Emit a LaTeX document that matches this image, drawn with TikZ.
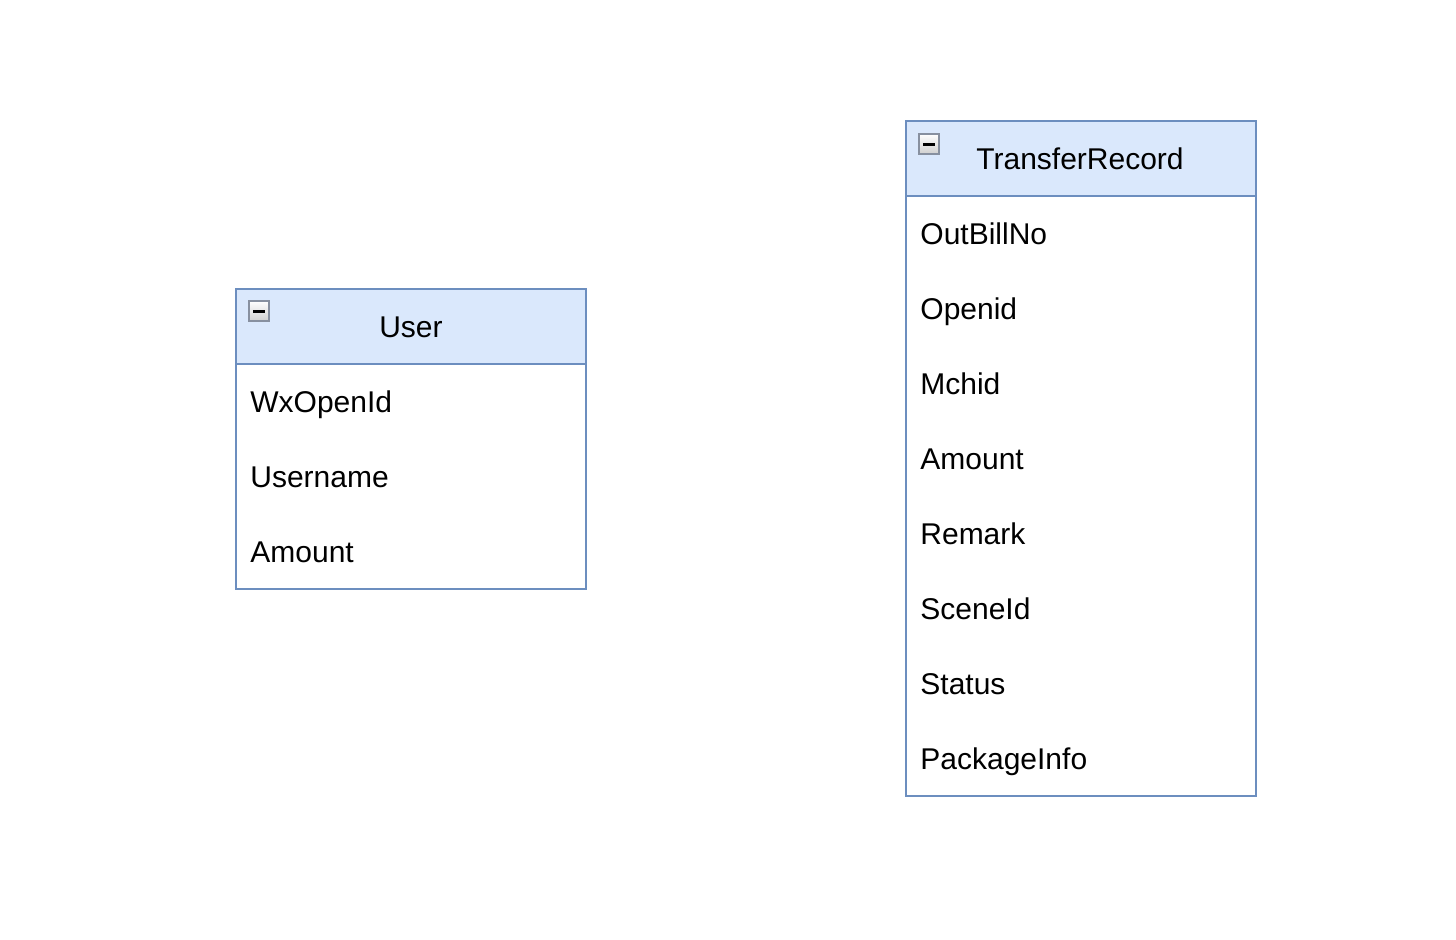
\documentclass[tikz,border=0pt]{standalone}
\usepackage{fontspec}
\setmainfont{Liberation Sans}
\definecolor{hdrfill}{HTML}{DAE8FC}
\definecolor{hdrline}{HTML}{6C8EBF}
\definecolor{icoline}{HTML}{8790A0}
\definecolor{icotop}{HTML}{FFFFFF}
\definecolor{icobot}{HTML}{CFCFCF}
\tikzset{
  hdr/.style={draw=hdrline, fill=hdrfill, line width=1.2pt},
  body/.style={draw=hdrline, fill=white, line width=1.2pt},
  title/.style={font=\fontsize{15}{18}\selectfont, anchor=base, inner sep=0pt},
  field/.style={font=\fontsize{15}{18}\selectfont, anchor=base west, inner sep=0pt},
  icobox/.style={draw=icoline, line width=1.4pt, top color=icotop, bottom color=icobot},
}
\newcommand{\collapseicon}[2]{%
  \path[icobox] (#1,#2) rectangle ++(20,20);
  \draw[black, line width=1.5pt] (#1+4,#2+10.5) -- (#1+16,#2+10.5);
}
\begin{document}
\begin{tikzpicture}[x=0.5pt,y=-0.5pt]
\useasboundingbox (0,0) rectangle (1456,940);
% User
\path[body] (236,364) rectangle (586,589);
\path[hdr] (236,289) rectangle (586,364);
\collapseicon{249}{301}
\node[title] (user) at (411,338) {User};
\node[field] (u1) at (250,412.5) {WxOpenId};
\node[field] (u2) at (250,487.5) {Username};
\node[field] (u3) at (250,562.5) {Amount};
% TransferRecord
\path[body] (906,196) rectangle (1256,796);
\path[hdr] (906,121) rectangle (1256,196);
\collapseicon{919}{134}
\node[title] (tr) at (1080,170) {TransferRecord};
\node[field] (t1) at (920,244.5) {OutBillNo};
\node[field] (t2) at (920,319.5) {Openid};
\node[field] (t3) at (920,394.5) {Mchid};
\node[field] (t4) at (920,469.5) {Amount};
\node[field] (t5) at (920,544.5) {Remark};
\node[field] (t6) at (920,619.5) {SceneId};
\node[field] (t7) at (920,694.5) {Status};
\node[field] (t8) at (920,769.5) {PackageInfo};
\end{tikzpicture}
\end{document}
